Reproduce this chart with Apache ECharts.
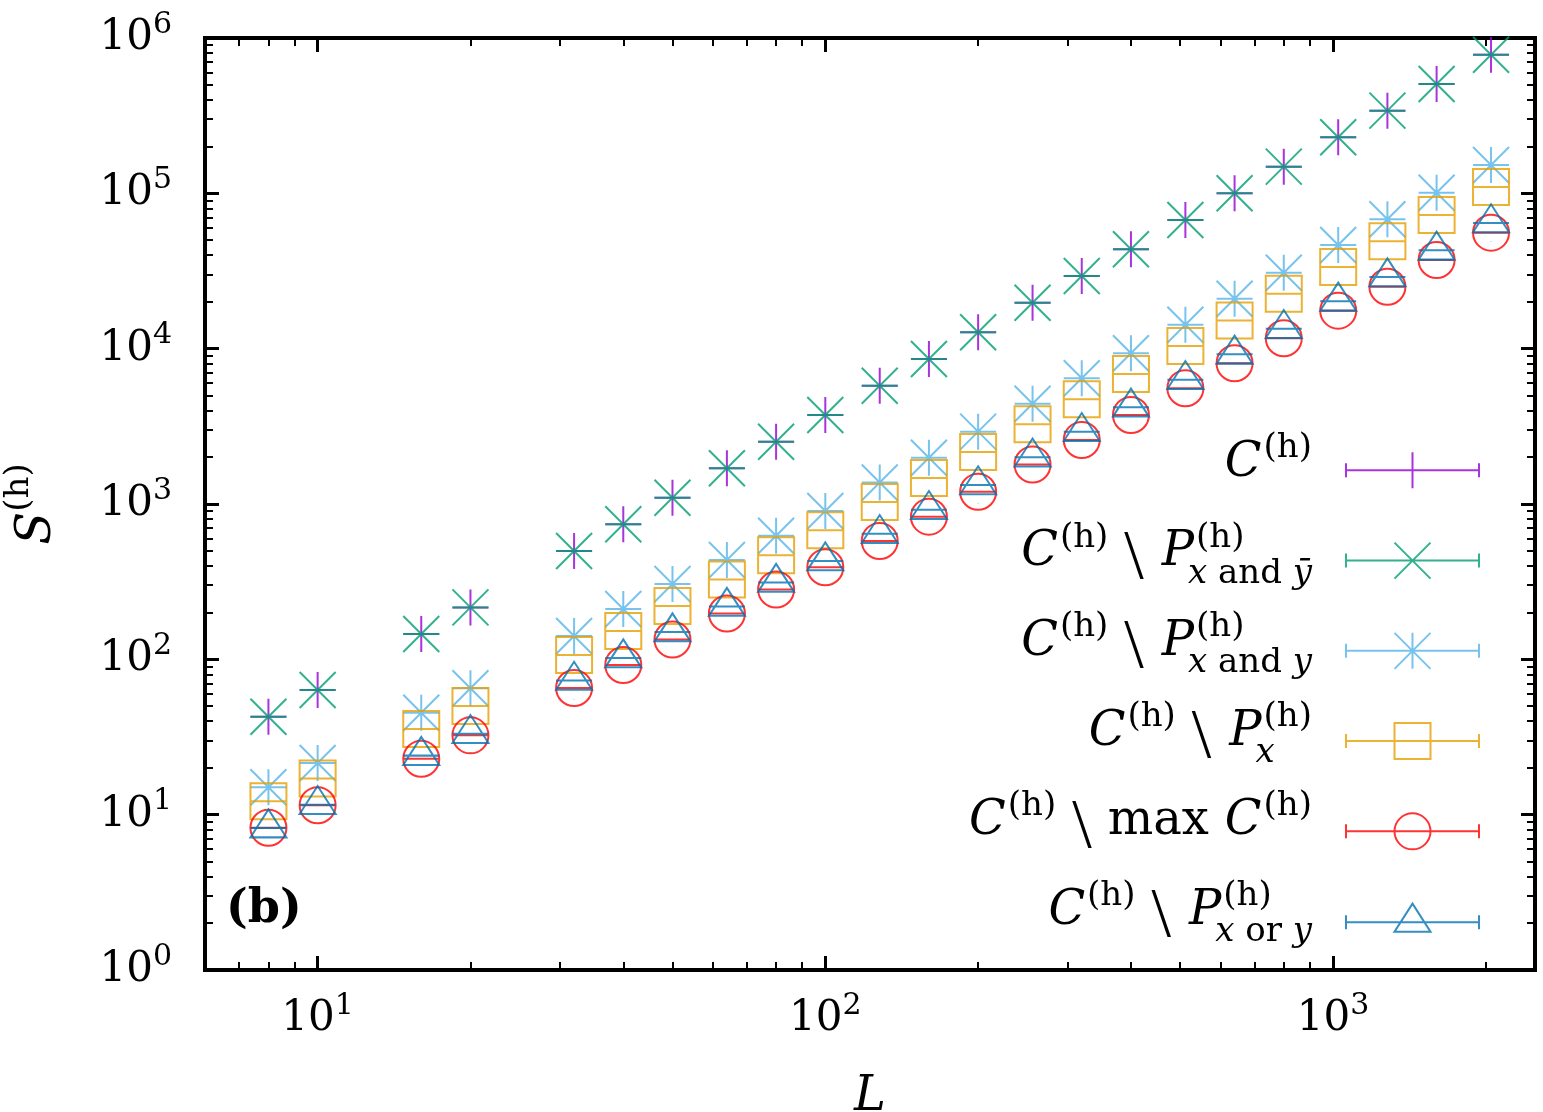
<!DOCTYPE html>
<html>
<head>
<meta charset="utf-8">
<title>S(h) vs L</title>
<script src="https://cdn.jsdelivr.net/npm/echarts@6.0.0/dist/echarts.min.js"></script>
<style>
  html, body { margin: 0; padding: 0; background: #fff; }
  #chart { width: 1543px; height: 1112px; }
</style>
</head>
<body>
<div id="chart"></div>
<script>
// system sizes L
const L = [8, 10, 16, 20, 32, 40, 50, 64, 80, 100, 128, 160, 200, 256, 320, 400, 512, 640, 800, 1024, 1280, 1600, 2048];

// S(h) for each cluster set
const hAll = [42.7, 63.5, 145.6, 216, 498, 740, 1098, 1698, 2519, 3741, 5776, 8582, 12750, 19770, 29380, 43630, 67350, 100070, 148500, 229600, 340600, 505800, 780000];
const hXandYbar = [42.7, 63.5, 145.6, 216, 498, 740, 1098, 1698, 2519, 3741, 5776, 8582, 12750, 19770, 29380, 43630, 67350, 100070, 148500, 229600, 340600, 505800, 780000];
const hXandY = [15.0, 21.5, 45.3, 65.1, 141.4, 210.9, 305.5, 436, 625, 901.6, 1376, 1987, 2922, 4424, 6448, 9340, 14270, 20980, 30850, 46500, 68060, 100970, 152300];
const hX = [12.2, 17.1, 35.6, 50.1, 106.6, 152.2, 220.5, 326.6, 467.5, 677.3, 1030, 1471, 2162, 3261, 4722, 6871, 10410, 15190, 22560, 33560, 49120, 72550, 109900];
const hMax = [8.24, 11.5, 22.9, 32.4, 65.4, 91.9, 134.2, 197.3, 281.6, 391.4, 578, 828.7, 1200, 1796, 2583, 3741, 5558, 8054, 11670, 17560, 25060, 37230, 55810];
const hXorY = [8.2, 11.6, 24.0, 33.2, 73.1, 102, 150, 218.9, 312.4, 429.7, 644.1, 919, 1326, 2002, 2922, 4195, 6315, 9200, 13450, 20180, 28940, 42990, 64450];

// axis ticks
const xMajor = [10, 100, 1000];
const yMajor = [1, 10, 100, 1000, 10000, 100000, 1000000];
const minorTicks = (decades, lo, hi) => {
  const out = [];
  decades.forEach(d => {
    for (let k = 2; k <= 9; k++) {
      const v = k * d;
      if (v > lo && v < hi) out.push(v);
    }
  });
  return out;
};
const xMinor = minorTicks([1, 10, 100, 1000], 6, 2500);
const yMinor = minorTicks([1, 10, 100, 1000, 10000, 100000], 1, 1000000);

const SERIF = '"DejaVu Serif", "Liberation Serif", serif';
const K = 0.346; // canvas "middle" -> alphabetic baseline, in em

// markers: point with its (tiny) error bar drawn across it
const MARK = {
  plus: 'path://M0,18L36,18M18,0L18,36',
  cross: 'path://M0,18L36,18M0,0L36,36M36,0L0,36',
  star: 'path://M0,18L36,18M18,0L18,36M0,0L36,36M36,0L0,36',
  square: 'path://M0,0L36,0L36,36L0,36ZM0,18L36,18',
  circle: 'path://M0,18A18,18,0,1,1,36,18A18,18,0,1,1,0,18ZM0,18L36,18',
  triangle: 'path://M18,0L36,28L0,28ZM0,18.67L36,18.67M18,37.32L18,37.34'
};
const MARK_SIZE = {
  plus: [36, 36], cross: [36, 36], star: [36, 36], square: [36, 36], circle: [36, 36], triangle: [36, 37.34]
};
const BAR = 'M0,18L133,18M0,11L0,25M133,11L133,25';
const LEG = {
  plus: 'path://' + BAR + 'M66.5,0L66.5,36',
  cross: 'path://' + BAR + 'M48.5,0L84.5,36M84.5,0L48.5,36',
  star: 'path://' + BAR + 'M66.5,0L66.5,36M48.5,0L84.5,36M84.5,0L48.5,36',
  square: 'path://' + BAR + 'M48.5,0L84.5,0L84.5,36L48.5,36Z',
  circle: 'path://' + BAR + 'M48.5,18A18,18,0,1,1,84.5,18A18,18,0,1,1,48.5,18Z',
  triangle: 'path://M0,18.67L133,18.67M0,11.67L0,25.67M133,11.67L133,25.67M66.5,0L84.5,28L48.5,28ZM66.5,37.32L66.5,37.34'
};

const seriesDefs = [
  { name: 'C(h)', data: hAll, color: '#9400d3', mark: 'plus' },
  { name: 'C(h) \\ P(h) x and ybar', data: hXandYbar, color: '#009e73', mark: 'cross' },
  { name: 'C(h) \\ P(h) x and y', data: hXandY, color: '#56b4e9', mark: 'star' },
  { name: 'C(h) \\ P(h) x', data: hX, color: '#e69f00', mark: 'square' },
  { name: 'C(h) \\ max C(h)', data: hMax, color: '#ff0000', mark: 'circle' },
  { name: 'C(h) \\ P(h) x or y', data: hXorY, color: '#0072b2', mark: 'triangle' }
];

// legend labels, laid out as pieces (LaTeX-like sub/superscripts)
const legendRows = [
  [['C', 'it'], ['(h)', 'sup', 2]],
  [['C', 'it'], ['(h)', 'sup', 2], ['\\', 'bs', 16], ['P', 'it', 18], { sup: '(h)', sub: [['x', 'subit'], [' and ', 'subrm'], ['ȳ', 'subit']] }],
  [['C', 'it'], ['(h)', 'sup', 2], ['\\', 'bs', 16], ['P', 'it', 18], { sup: '(h)', sub: [['x', 'subit'], [' and ', 'subrm'], ['y', 'subit']] }],
  [['C', 'it'], ['(h)', 'sup', 2], ['\\', 'bs', 16], ['P', 'it', 18], { sup: '(h)', sub: [['x', 'subit']] }],
  [['C', 'it'], ['(h)', 'sup', 2], ['\\', 'bs', 16], ['max', 'rm', 16], ['C', 'it', 16], ['(h)', 'sup', 2]],
  [['C', 'it'], ['(h)', 'sup', 2], ['\\', 'bs', 16], ['P', 'it', 18], { sup: '(h)', sub: [['x', 'subit'], [' or ', 'subrm'], ['y', 'subit']] }]
];
const ST = {
  it: { fontStyle: 'italic', fontSize: 48, dy: 0 },
  rm: { fontStyle: 'normal', fontSize: 48, dy: 0 },
  bs: { fontStyle: 'normal', fontSize: 70, dy: 14, fontFamily: '"Liberation Serif", serif' },
  sup: { fontStyle: 'normal', fontSize: 34, dy: -20 },
  subit: { fontStyle: 'italic', fontSize: 34, dy: 16 },
  subrm: { fontStyle: 'normal', fontSize: 34, dy: 16 }
};
const legendTop = 446.33;
const legendStep = 89.6;
const legendTextRight = 1312;

const measureCtx = document.createElement('canvas').getContext('2d');
function textWidth(t, key) {
  const s = ST[key];
  measureCtx.font = s.fontStyle + ' ' + s.fontSize + 'px ' + (s.fontFamily || SERIF);
  return measureCtx.measureText(t).width;
}

function layoutRow(tokens, lineY) {
  const pieces = [];
  let x = 0;
  tokens.forEach(tok => {
    if (Array.isArray(tok)) {
      x += tok[2] || 0;
      pieces.push({ t: tok[0], key: tok[1], x });
      x += textWidth(tok[0], tok[1]);
    } else {
      const start = x;
      pieces.push({ t: tok.sup, key: 'sup', x: start + 2 });
      const endSup = start + 2 + textWidth(tok.sup, 'sup');
      let sx = start - 6;
      tok.sub.forEach(s => {
        pieces.push({ t: s[0], key: s[1], x: sx });
        sx += textWidth(s[0], s[1]);
      });
      x = Math.max(endSup, sx);
    }
  });
  const shift = legendTextRight - x;
  const baseline = lineY + 15;
  return pieces.map(p => {
    const s = ST[p.key];
    return {
      type: 'text',
      x: p.x + shift,
      y: baseline + s.dy - K * s.fontSize,
      silent: true,
      style: {
        text: p.t,
        fill: '#000',
        fontFamily: s.fontFamily || SERIF,
        fontStyle: s.fontStyle,
        fontSize: s.fontSize,
        align: 'left',
        verticalAlign: 'middle',
        textAlign: 'left',
        textVerticalAlign: 'middle'
      }
    };
  });
}

const legendText = [];
legendRows.forEach((row, i) => {
  legendText.push(...layoutRow(row, legendTop + 18.67 + i * legendStep));
});

const tickRich = {
  b: { fontFamily: SERIF, fontSize: 42, lineHeight: 56, verticalAlign: 'middle', color: '#000' },
  s: { fontFamily: SERIF, fontSize: 30, lineHeight: 30, verticalAlign: 'top', color: '#000' }
};
const powLabel = v => '{b|10}{s|' + Math.round(Math.log10(v)) + '}';

function makeAxis(dim, position, ticks, len, width, label) {
  return {
    type: 'log',
    logBase: 10,
    min: dim === 'x' ? 6 : 1,
    max: dim === 'x' ? 2500 : 1000000,
    position: position,
    axisLine: { show: false },
    splitLine: { show: false },
    minorTick: { show: false },
    axisTick: { show: true, inside: true, length: len, customValues: ticks, lineStyle: { color: '#000', width: width } },
    axisLabel: label || { show: false }
  };
}

const xAxes = [
  makeAxis('x', 'bottom', xMajor, 14, 3, {
    show: true, customValues: xMajor, margin: 21, formatter: powLabel, rich: tickRich
  }),
  makeAxis('x', 'bottom', xMinor, 8, 2),
  makeAxis('x', 'top', xMajor, 14, 3),
  makeAxis('x', 'top', xMinor, 8, 2)
];
xAxes[0].name = 'L';
xAxes[0].nameLocation = 'middle';
xAxes[0].nameGap = 104;
xAxes[0].nameMoveOverlap = false;
xAxes[0].nameTextStyle = { fontFamily: SERIF, fontStyle: 'italic', fontSize: 48, lineHeight: 48, color: '#000' };

const yAxes = [
  makeAxis('y', 'left', yMajor, 14, 3, {
    show: true, customValues: yMajor, margin: 33, formatter: powLabel, rich: tickRich
  }),
  makeAxis('y', 'left', yMinor, 8, 2),
  makeAxis('y', 'right', yMajor, 14, 3),
  makeAxis('y', 'right', yMinor, 8, 2)
];
yAxes[0].name = '{i|S}{s|(h)}';
yAxes[0].nameLocation = 'middle';
yAxes[0].nameGap = 131;
yAxes[0].nameRotate = 90;
yAxes[0].nameMoveOverlap = false;
yAxes[0].nameTextStyle = {
  color: '#000',
  rich: {
    i: { fontFamily: SERIF, fontStyle: 'italic', fontSize: 48, lineHeight: 72, verticalAlign: 'middle', color: '#000' },
    s: { fontFamily: SERIF, fontSize: 34, lineHeight: 34, verticalAlign: 'top', color: '#000' }
  }
};

const chart = echarts.init(document.getElementById('chart'));

chart.setOption({
  animation: false,
  backgroundColor: '#fff',
  grid: {
    left: 205, right: 8, top: 38, bottom: 142,
    show: true, borderColor: '#000', borderWidth: 4, backgroundColor: 'transparent',
    containLabel: false, outerBoundsMode: 'none'
  },
  xAxis: xAxes,
  yAxis: yAxes,
  legend: {
    orient: 'vertical',
    left: 1340,
    top: legendTop,
    itemWidth: 133,
    itemHeight: 37.34,
    itemGap: legendStep - 37.34,
    selectedMode: false,
    formatter: () => '',
    textStyle: { fontSize: 10 },
    itemStyle: { borderWidth: 2 },
    data: seriesDefs.map(d => ({ name: d.name, icon: LEG[d.mark] }))
  },
  graphic: legendText.concat([{
    type: 'text',
    x: 226,
    y: 926 - K * 46,
    silent: true,
    style: {
      text: '(b)', fill: '#000', fontFamily: SERIF, fontWeight: 'bold', fontSize: 46,
      align: 'left', verticalAlign: 'middle', textAlign: 'left', textVerticalAlign: 'middle'
    }
  }]),
  series: seriesDefs.map((d, i) => ({
    type: 'scatter',
    name: d.name,
    xAxisIndex: 0,
    yAxisIndex: 0,
    data: L.map((x, j) => [x, d.data[j]]),
    symbol: MARK[d.mark],
    symbolSize: MARK_SIZE[d.mark],
    itemStyle: { color: 'rgba(0,0,0,0)', borderColor: d.color, borderWidth: 2 },
    emphasis: { disabled: true },
    silent: true,
    z: 2 + i
  }))
});
</script>
</body>
</html>
